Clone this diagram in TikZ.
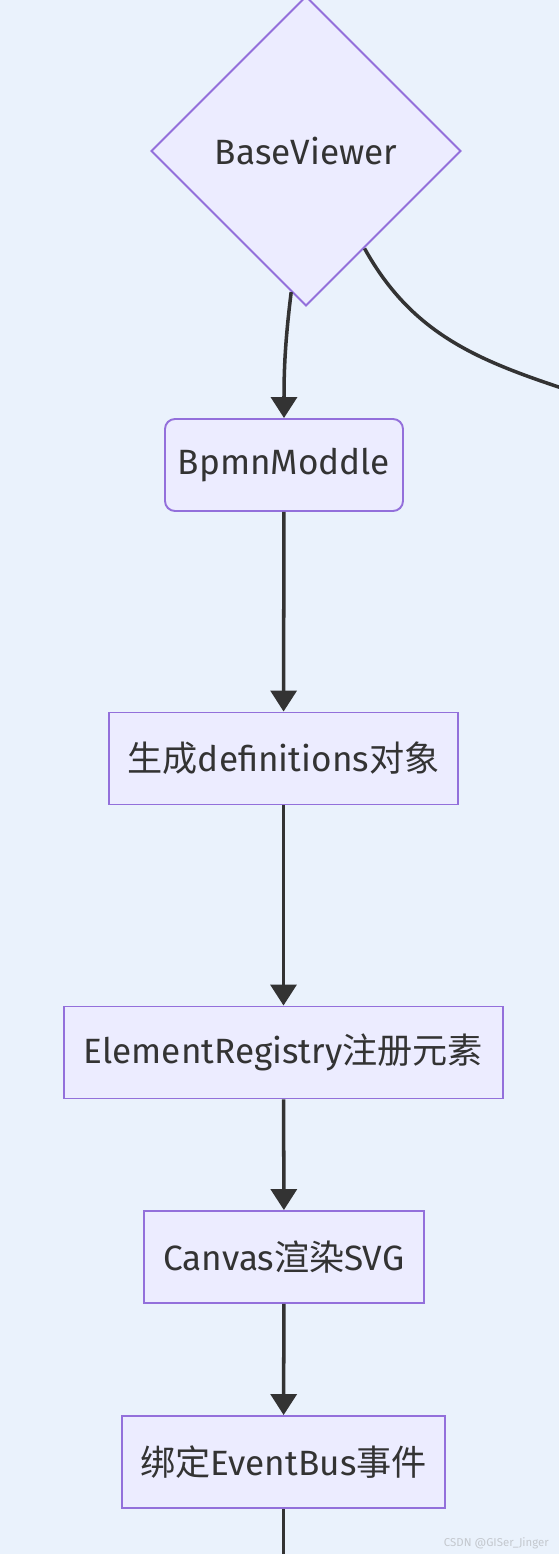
\documentclass[tikz,border=0pt]{standalone}
\usepackage{fontspec}
\setmainfont{Fira Sans}
\newfontfamily\cjk{Noto Sans CJK SC}
\usepackage{tikz}
\usetikzlibrary{arrows.meta,positioning,shapes.geometric}
\definecolor{FlowBg}{HTML}{EAF2FC}
\definecolor{FlowFill}{HTML}{ECECFF}
\definecolor{FlowEdge}{HTML}{9370DB}
\definecolor{FlowInk}{HTML}{333333}
\definecolor{FlowMark}{HTML}{C4C8CE}
\tikzset{
  flowlabel/.style={font=\fontsize{20}{24}\selectfont, text=FlowInk},
  flowbox/.style={draw=FlowEdge, line width=1.1pt, fill=FlowFill, minimum height=1.84cm, inner sep=0pt},
  flowround/.style={flowbox, rounded corners=0.2cm},
  flowdiamond/.style={flowbox, diamond, shape aspect=1, minimum width=6.2cm, minimum height=6.2cm},
  flowarrow/.style={-{Triangle[length=0.42cm,width=0.52cm]}, line width=2pt, draw=FlowInk},
  flowline/.style={line width=2pt, draw=FlowInk}
}
\begin{document}
\begin{tikzpicture}[every node/.style={flowlabel}]
\useasboundingbox[fill=FlowBg] (0,0) rectangle (11.18,-31.08);
\node[flowdiamond] (viewer) at (6.12,-3.02) {BaseViewer};
\node[flowround, minimum width=4.76cm] (moddle) at (5.68,-9.30) {BpmnModdle};
\node[flowbox, minimum width=6.98cm] (defs) at (5.67,-15.17) {{\cjk 生成}definitions{\cjk 对象}};
\node[flowbox, minimum width=8.78cm] (registry) at (5.67,-21.05) {ElementRegistry{\cjk 注册元素}};
\node[flowbox, minimum width=5.6cm] (canvas) at (5.68,-25.14) {Canvas{\cjk 渲染}SVG};
\node[flowbox, minimum width=6.46cm] (bus) at (5.67,-29.24) {{\cjk 绑定}EventBus{\cjk 事件}};
\coordinate (rightout) at (11.6,-7.88);
\coordinate (downout) at (5.67,-31.4);
\node[font=\fontsize{6.5}{8}\selectfont, text=FlowMark, anchor=east] (mark) at (11.1,-30.86) {CSDN @GISer\_Jinger};
\draw[flowarrow] (viewer.264) to[out=-97, in=90] (moddle.north);
\draw[flowline] (viewer.-59) to[out=-61, in=162] (rightout);
\draw[flowarrow] (moddle) -- (defs);
\draw[flowarrow] (defs) -- (registry);
\draw[flowarrow] (registry) -- (canvas);
\draw[flowarrow] (canvas) -- (bus);
\draw[flowline] (bus) -- (downout);
\end{tikzpicture}
\end{document}
